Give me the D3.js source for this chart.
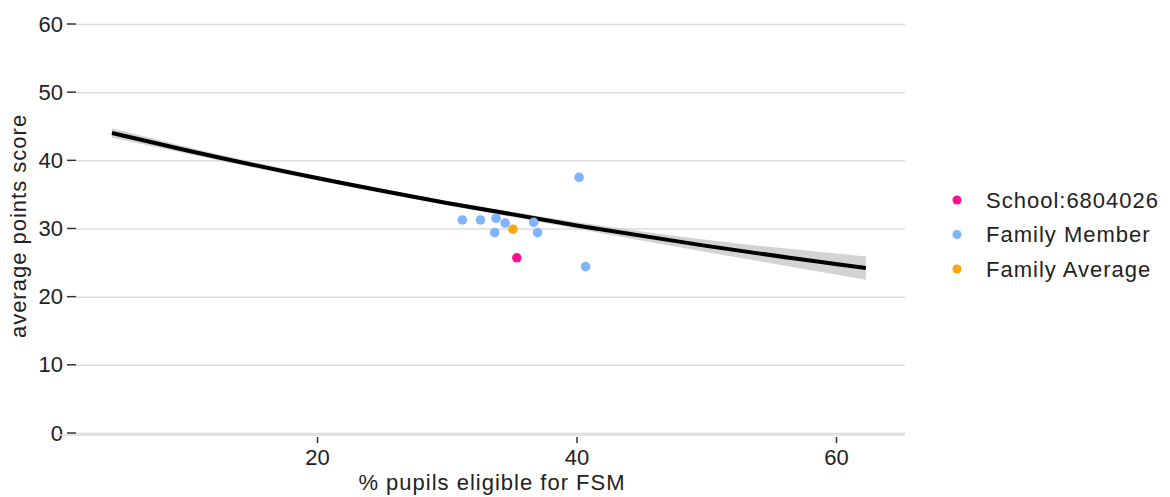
<!DOCTYPE html>
<html>
<head>
<meta charset="utf-8">
<script src="https://cdn.jsdelivr.net/npm/d3@7"></script>
<style>
  html, body { margin: 0; padding: 0; background: #fff; }
  svg { display: block; font-family: "Liberation Sans", Arial, sans-serif; }
</style>
</head>
<body>
<div id="chart"></div>
<script>
(function () {
  "use strict";

  // points
  var memberX = [31.2, 32.6, 33.8, 34.5, 33.7, 36.7, 37.0, 40.2, 40.7];
  var memberY = [31.25, 31.25, 31.5, 30.8, 29.4, 30.9, 29.4, 37.5, 24.4];
  var schoolX = [35.4];
  var schoolY = [25.7];
  var averageX = [35.1];
  var averageY = [29.9];

  // fitted curve and its band
  var fitX  = [4.2, 10, 20, 30, 40, 50, 62.3];
  var fitY  = [44.0, 41.45, 37.4, 33.75, 30.45, 27.45, 24.2];
  var fitLo = [43.3, 40.95, 37.05, 33.45, 29.95, 26.55, 22.5];
  var fitHi = [44.7, 41.95, 37.75, 34.05, 30.95, 28.35, 25.9];

  var xTicks = [20, 40, 60];
  var yTicks = [0, 10, 20, 30, 40, 50, 60];

  var legendLabels = ["School:6804026", "Family Member", "Family Average"];
  var legendColors = ["#ff0f93", "#80b4ff", "#ffa412"];

  var GRID = "#dcdcdc";
  var TEXT = "#222";
  var FS = "22px";

  var W = 1170, H = 497;
  var left = 76, right = 905;

  var svg = d3.select("#chart").append("svg")
    .attr("width", W).attr("height", H);

  var x = d3.scaleLinear().domain([0, 60]).range([57.5, 836]);
  var y = d3.scaleLinear().domain([0, 60]).range([433, 24]);

  // horizontal grid + y ticks
  svg.append("g")
    .attr("transform", "translate(" + left + ",0)")
    .call(d3.axisLeft(y).tickValues(yTicks).tickSize(-(right - left)).tickPadding(13))
    .call(function (g) {
      g.select(".domain").remove();
      g.selectAll(".tick line").attr("stroke", GRID).attr("stroke-width", 1.5);
      g.selectAll(".tick text").attr("fill", TEXT).attr("font-size", FS);
    });
  // small tick dashes to the left
  svg.append("g").selectAll("line").data(yTicks).enter().append("line")
    .attr("x1", 67).attr("x2", 76)
    .attr("y1", function (d) { return y(d); })
    .attr("y2", function (d) { return y(d); })
    .attr("stroke", "#333").attr("stroke-width", 1.5);

  // x axis
  svg.append("line")
    .attr("x1", 57).attr("x2", right)
    .attr("y1", 435).attr("y2", 435)
    .attr("stroke", GRID).attr("stroke-width", 1.5);
  svg.append("g")
    .attr("transform", "translate(0,437)")
    .call(d3.axisBottom(x).tickValues(xTicks).tickSize(6).tickPadding(6))
    .call(function (g) {
      g.select(".domain").remove();
      g.selectAll(".tick line").attr("stroke", "#333").attr("stroke-width", 1.5);
      g.selectAll(".tick text").attr("fill", TEXT).attr("font-size", FS);
    });

  svg.append("text")
    .attr("x", 492).attr("y", 490)
    .attr("text-anchor", "middle")
    .attr("fill", TEXT).attr("font-size", FS).attr("letter-spacing", 1)
    .text("% pupils eligible for FSM");

  svg.append("text")
    .attr("transform", "translate(26,226) rotate(-90)")
    .attr("text-anchor", "middle")
    .attr("fill", TEXT).attr("font-size", FS).attr("letter-spacing", 1)
    .text("average points score");

  // band and line
  var fit = fitX.map(function (d, i) { return { x: d, y: fitY[i], lo: fitLo[i], hi: fitHi[i] }; });

  svg.append("path")
    .datum(fit)
    .attr("fill", "#c8c8c8").attr("opacity", 0.8)
    .attr("d", d3.area()
      .curve(d3.curveMonotoneX)
      .x(function (d) { return x(d.x); })
      .y0(function (d) { return y(d.lo); })
      .y1(function (d) { return y(d.hi); }));

  svg.append("path")
    .datum(fit)
    .attr("fill", "none").attr("stroke", "#000").attr("stroke-width", 4)
    .attr("d", d3.line()
      .curve(d3.curveMonotoneX)
      .x(function (d) { return x(d.x); })
      .y(function (d) { return y(d.y); }));

  // points
  function dots(xs, ys, color) {
    svg.append("g").selectAll("circle")
      .data(xs.map(function (d, i) { return [d, ys[i]]; }))
      .enter().append("circle")
        .attr("cx", function (d) { return x(d[0]); })
        .attr("cy", function (d) { return y(d[1]); })
        .attr("r", 4.8)
        .attr("fill", color);
  }
  dots(memberX, memberY, legendColors[1]);
  dots(averageX, averageY, legendColors[2]);
  dots(schoolX, schoolY, legendColors[0]);

  // legend
  var lg = svg.append("g").attr("transform", "translate(957,200)");
  legendLabels.forEach(function (lab, i) {
    lg.append("circle")
      .attr("cx", 0).attr("cy", i * 34.5).attr("r", 4.5)
      .attr("fill", legendColors[i]);
    lg.append("text")
      .attr("x", 29).attr("y", i * 34.5).attr("dy", "0.35em")
      .attr("fill", TEXT).attr("font-size", FS).attr("letter-spacing", 1)
      .text(lab);
  });
}());
</script>
</body>
</html>
